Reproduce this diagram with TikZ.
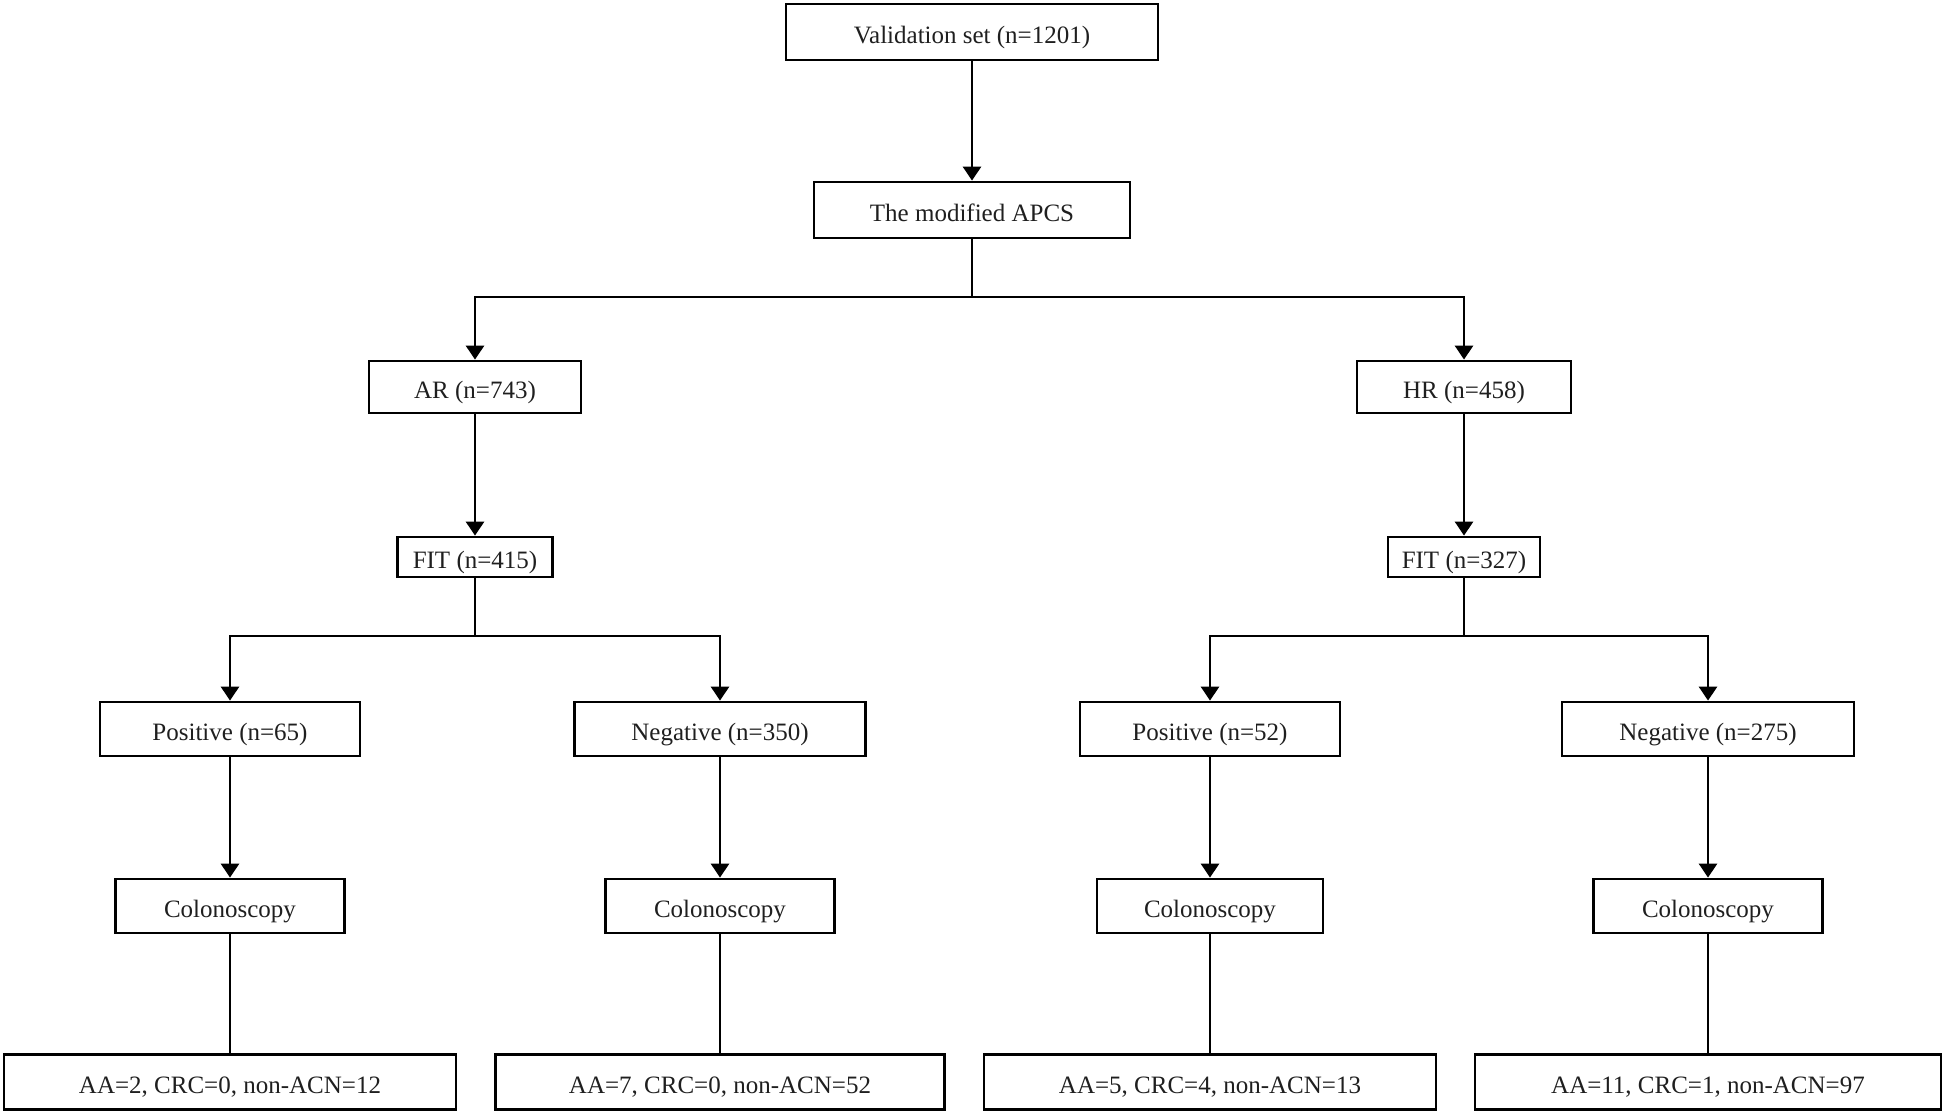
\documentclass[tikz,border=0pt]{standalone}
\usepackage{fontspec}
\setmainfont{Liberation Serif}
\usetikzlibrary{arrows.meta}

\begin{document}
\begin{tikzpicture}[x=1pt, y=-1pt,
  box/.style={draw, line width=2.8pt, minimum height=54, inner sep=0pt,
    text height=23pt, text depth=0pt,
    text=black!88, font=\fontsize{25}{29}\selectfont},
  arr/.style={line width=2.8pt, -{Triangle[width=18pt, length=14pt]}},
  link/.style={line width=2.8pt}]
\useasboundingbox (0,0) rectangle (1946,1116);

% Top of the chart
\node[box, minimum width=372, minimum height=56] (valset) at (972,32) {Validation set (n=1201)};
\node[box, minimum width=316, minimum height=56] (apcs) at (972,210) {The modified APCS};

% Risk groups
\node[box, minimum width=212, minimum height=52] (ar) at (475,387) {AR (n=743)};
\node[box, minimum width=214, minimum height=52] (hr) at (1464,387) {HR (n=458)};

\node[box, minimum width=155, minimum height=40] (fitar) at (475,557) {FIT (n=415)};
\node[box, minimum width=152, minimum height=40] (fithr) at (1464,557) {FIT (n=327)};

% FIT results
\node[box, minimum width=260] (posar) at (230,729) {Positive (n=65)};
\node[box, minimum width=291] (negar) at (720,729) {Negative (n=350)};
\node[box, minimum width=260] (poshr) at (1210,729) {Positive (n=52)};
\node[box, minimum width=292] (neghr) at (1708,729) {Negative (n=275)};

% Colonoscopy
\node[box, minimum width=229] (colposar) at (230,906) {Colonoscopy};
\node[box, minimum width=229] (colnegar) at (720,906) {Colonoscopy};
\node[box, minimum width=226] (colposhr) at (1210,906) {Colonoscopy};
\node[box, minimum width=229] (colneghr) at (1708,906) {Colonoscopy};

% Findings
\node[box, minimum width=452, minimum height=55] (resposar) at (230,1082) {AA=2, CRC=0, non-ACN=12};
\node[box, minimum width=449, minimum height=55] (resnegar) at (720,1082) {AA=7, CRC=0, non-ACN=52};
\node[box, minimum width=452, minimum height=55] (resposhr) at (1210,1082) {AA=5, CRC=4, non-ACN=13};
\node[box, minimum width=466, minimum height=55] (resneghr) at (1708,1082) {AA=11, CRC=1, non-ACN=97};

% Split points
\coordinate (splitapcs) at (972,297);
\coordinate (splitar) at (475,636);
\coordinate (splithr) at (1464,636);

% Connectors
\draw[arr] (valset) -- (apcs);
\draw[link] (apcs) -- (splitapcs);
\draw[arr] (splitapcs) -| (ar);
\draw[arr] (splitapcs) -| (hr);

\draw[arr] (ar) -- (fitar);
\draw[arr] (hr) -- (fithr);

\draw[link] (fitar) -- (splitar);
\draw[arr] (splitar) -| (posar);
\draw[arr] (splitar) -| (negar);
\draw[link] (fithr) -- (splithr);
\draw[arr] (splithr) -| (poshr);
\draw[arr] (splithr) -| (neghr);

\draw[arr] (posar) -- (colposar);
\draw[arr] (negar) -- (colnegar);
\draw[arr] (poshr) -- (colposhr);
\draw[arr] (neghr) -- (colneghr);

\draw[link] (colposar) -- (resposar);
\draw[link] (colnegar) -- (resnegar);
\draw[link] (colposhr) -- (resposhr);
\draw[link] (colneghr) -- (resneghr);
\end{tikzpicture}
\end{document}
